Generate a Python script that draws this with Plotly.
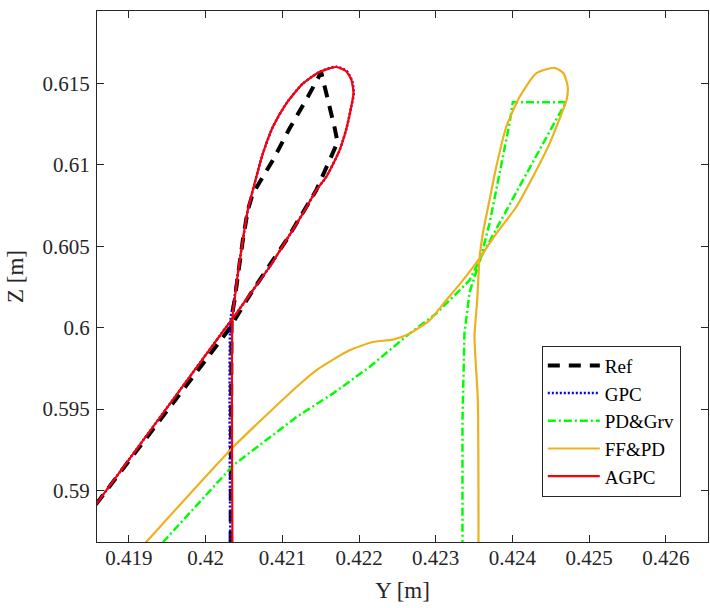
import plotly.graph_objects as go

# ---------------- data (Y [m], Z [m]) ----------------
ref_y = [0.420325, 0.420325, 0.420338, 0.420377, 0.42042, 0.420485, 0.42055, 0.420615,
         0.420876, 0.421094, 0.421332, 0.421507, 0.421681, 0.42172, 0.421442, 0.421051,
         0.420615, 0.420295, 0.418578, 0.4183]
ref_z = [0.5855, 0.599834, 0.600571, 0.601677, 0.603317, 0.605362, 0.607205, 0.608231,
         0.610276, 0.612224, 0.614165, 0.615682, 0.612303, 0.611382, 0.608434, 0.605362,
         0.602291, 0.599834, 0.589189, 0.587465]

gpc_y = [0.420325, 0.420325, 0.42037, 0.42042, 0.420485, 0.42055, 0.420638, 0.420746,
         0.420876, 0.421051, 0.421267, 0.421485, 0.421703, 0.421838, 0.421908, 0.421932,
         0.421898, 0.421837, 0.421746, 0.421572, 0.421442, 0.421267, 0.421051, 0.420833,
         0.420615, 0.420399, 0.420269, 0.418578, 0.4183]
gpc_z = [0.5855, 0.6005, 0.601677, 0.603317, 0.605362, 0.607205, 0.608845, 0.610688,
         0.612322, 0.613759, 0.614988, 0.6157, 0.616027, 0.615763, 0.61519, 0.614392,
         0.61355, 0.612242, 0.610891, 0.609251, 0.608434, 0.607002, 0.605362, 0.603722,
         0.602291, 0.60086, 0.600037, 0.589189, 0.587465]

pdg_y = [0.423349, 0.423349, 0.423375, 0.423441, 0.423506, 0.423571, 0.423701, 0.423789,
         0.423875, 0.423962, 0.424005, 0.424701, 0.424614, 0.424396, 0.424136, 0.423875,
         0.423614, 0.423441, 0.423006, 0.422658, 0.422137, 0.421658, 0.421185, 0.42036,
         0.419447, 0.419189]
pdg_z = [0.5855, 0.594306, 0.59965, 0.602168, 0.603108, 0.604011, 0.606388, 0.608434,
         0.610479, 0.612531, 0.613839, 0.613839, 0.613145, 0.611302, 0.609048, 0.606794,
         0.604545, 0.602905, 0.60086, 0.599631, 0.59758, 0.595946, 0.594509, 0.591542,
         0.586831, 0.5855]

ffpd_y = [0.423558, 0.423549, 0.423506, 0.423541, 0.423571, 0.423614, 0.423701, 0.423789,
          0.423919, 0.424093, 0.42431, 0.424549, 0.424666, 0.424722, 0.424705, 0.424657,
          0.424484, 0.424266, 0.42405, 0.423789, 0.423571, 0.423353, 0.423137, 0.422919,
          0.422658, 0.422441, 0.42218, 0.421876, 0.421442, 0.421185, 0.42036, 0.419226,
          0.418967]
ffpd_z = [0.5855, 0.595534, 0.599466, 0.601677, 0.604257, 0.605774, 0.607819, 0.609865,
          0.612322, 0.614165, 0.61562, 0.615958, 0.61562, 0.614779, 0.613962, 0.613348,
          0.611302, 0.609251, 0.607408, 0.605774, 0.604257, 0.602905, 0.601677, 0.600448,
          0.599631, 0.599263, 0.599115, 0.598606, 0.597377, 0.596351, 0.592666, 0.586831,
          0.5855]

agpc_y = [0.420351, 0.420351, 0.420377, 0.42042, 0.420485, 0.42055, 0.420638, 0.420746,
          0.420876, 0.421051, 0.421267, 0.421485, 0.421703, 0.421833, 0.421902, 0.421928,
          0.421898, 0.421837, 0.421746, 0.421572, 0.421442, 0.421267, 0.421051, 0.420833,
          0.420615, 0.420399, 0.420269, 0.418578, 0.4183]
agpc_z = [0.5855, 0.600651, 0.601677, 0.603317, 0.605362, 0.607205, 0.608845, 0.610688,
          0.612322, 0.613759, 0.614988, 0.6157, 0.616007, 0.615743, 0.61519, 0.614392,
          0.61355, 0.612242, 0.610891, 0.609251, 0.608434, 0.607002, 0.605362, 0.603722,
          0.602291, 0.60086, 0.600037, 0.589189, 0.587465]

x_ticks = [0.419, 0.420, 0.421, 0.422, 0.423, 0.424, 0.425, 0.426]
x_tick_labels = ["0.419", "0.42", "0.421", "0.422", "0.423", "0.424", "0.425", "0.426"]
y_ticks = [0.590, 0.595, 0.600, 0.605, 0.610, 0.615]
y_tick_labels = ["0.59", "0.595", "0.6", "0.605", "0.61", "0.615"]

FONT = "Liberation Serif"
AX = "#262626"

fig = go.Figure()
fig.add_trace(go.Scatter(x=ref_y, y=ref_z, mode="lines", name="Ref",
                         line=dict(color="black", width=4, dash="12px,9px")))
fig.add_trace(go.Scatter(x=gpc_y, y=gpc_z, mode="lines", name="GPC",
                         line=dict(color="#0000FF", width=2.5, dash="2px,2px",
                                   shape="spline", smoothing=0.6)))
fig.add_trace(go.Scatter(x=pdg_y, y=pdg_z, mode="lines", name="PD&Grv",
                         line=dict(color="#00FF00", width=2.5, dash="8px,3px,2px,3px")))
fig.add_trace(go.Scatter(x=ffpd_y, y=ffpd_z, mode="lines", name="FF&PD",
                         line=dict(color="#EDB120", width=2.2, shape="spline", smoothing=0.6)))
fig.add_trace(go.Scatter(x=agpc_y, y=agpc_z, mode="lines", name="AGPC",
                         line=dict(color="#FF0000", width=2.2, shape="spline", smoothing=0.6)))

axis_common = dict(showgrid=False, zeroline=False, showline=True, linecolor=AX, linewidth=1,
                   mirror="allticks", ticks="inside", ticklen=7, tickcolor=AX, tickwidth=1,
                   automargin=False,
                   tickfont=dict(family=FONT, size=21, color=AX))

fig.update_xaxes(range=[0.418584, 0.42655], tickvals=x_ticks, ticktext=x_tick_labels,
                 ticklabelstandoff=-3,
                 title=dict(text="Y [m]", font=dict(family=FONT, size=23, color=AX), standoff=12),
                 **axis_common)
fig.update_yaxes(range=[0.586831, 0.619447], tickvals=y_ticks, ticktext=y_tick_labels,
                 ticklabelstandoff=2,
                 title=dict(text="Z [m]", font=dict(family=FONT, size=23, color=AX), standoff=12),
                 **axis_common)

fig.update_layout(
    width=710, height=608,
    margin=dict(l=97, r=2, t=11, b=66),
    paper_bgcolor="white", plot_bgcolor="white",
    font=dict(family=FONT, color=AX),
    legend=dict(x=0.728, y=0.37, xanchor="left", yanchor="top",
                bgcolor="white", bordercolor=AX, borderwidth=1,
                font=dict(family=FONT, size=19, color="black"),
                tracegroupgap=0, itemwidth=52),
    showlegend=True,
)

fig.write_html("out.html", config={"displayModeBar": False},
               post_script="document.body.style.margin='0';document.body.style.overflow='hidden';")
